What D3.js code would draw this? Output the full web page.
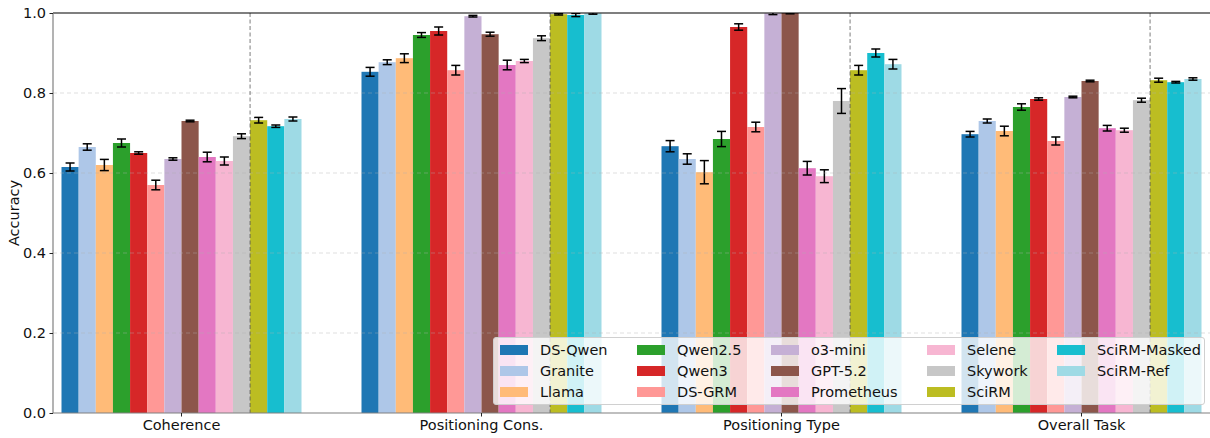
<!DOCTYPE html>
<html>
<head>
<meta charset="utf-8">
<script src="https://cdn.jsdelivr.net/npm/d3@7"></script>
<style>
  body { margin: 0; background: #fff; }
  text { font-family: "DejaVu Sans", sans-serif; }
</style>
</head>
<body>
<script>
var svgWidth = 1210;
var svgHeight = 438;

// data
var categories = ["Coherence", "Positioning Cons.", "Positioning Type", "Overall Task"];
var models = ["DS-Qwen", "Granite", "Llama", "Qwen2.5", "Qwen3", "DS-GRM", "o3-mini",
    "GPT-5.2", "Prometheus", "Selene", "Skywork", "SciRM", "SciRM-Masked", "SciRM-Ref"];
var colors = ["#1f77b4", "#aec7e8", "#ffbb78", "#2ca02c", "#d62728", "#ff9896", "#c5b0d5",
    "#8c564b", "#e377c2", "#f7b6d2", "#c7c7c7", "#bcbd22", "#17becf", "#9edae5"];

// one array per model: [Coherence, Positioning Cons., Positioning Type, Overall Task]
var dsQwen      = [0.615, 0.853, 0.667, 0.697];
var granite     = [0.665, 0.877, 0.635, 0.730];
var llama       = [0.620, 0.887, 0.602, 0.705];
var qwen25      = [0.675, 0.945, 0.685, 0.765];
var qwen3       = [0.650, 0.955, 0.965, 0.785];
var dsGrm       = [0.570, 0.857, 0.715, 0.680];
var o3mini      = [0.635, 0.992, 0.999, 0.790];
var gpt52       = [0.730, 0.947, 1.000, 0.830];
var prometheus  = [0.640, 0.870, 0.612, 0.712];
var selene      = [0.630, 0.880, 0.592, 0.707];
var skywork     = [0.692, 0.937, 0.780, 0.782];
var scirm       = [0.732, 0.997, 0.857, 0.832];
var scirmMasked = [0.717, 0.995, 0.900, 0.827];
var scirmRef    = [0.735, 0.999, 0.872, 0.835];

var dsQwenErr      = [0.010, 0.011, 0.014, 0.007];
var graniteErr     = [0.008, 0.006, 0.013, 0.005];
var llamaErr       = [0.014, 0.011, 0.029, 0.012];
var qwen25Err      = [0.010, 0.006, 0.019, 0.008];
var qwen3Err       = [0.003, 0.010, 0.008, 0.003];
var dsGrmErr       = [0.012, 0.012, 0.012, 0.010];
var o3miniErr      = [0.003, 0.002, 0.003, 0.002];
var gpt52Err       = [0.002, 0.005, 0.002, 0.002];
var prometheusErr  = [0.012, 0.012, 0.017, 0.007];
var seleneErr      = [0.010, 0.004, 0.016, 0.005];
var skyworkErr     = [0.006, 0.006, 0.031, 0.005];
var scirmErr       = [0.007, 0.002, 0.012, 0.005];
var scirmMaskedErr = [0.003, 0.004, 0.010, 0.002];
var scirmRefErr    = [0.005, 0.002, 0.012, 0.003];

var values = [dsQwen, granite, llama, qwen25, qwen3, dsGrm, o3mini, gpt52,
    prometheus, selene, skywork, scirm, scirmMasked, scirmRef];
var errors = [dsQwenErr, graniteErr, llamaErr, qwen25Err, qwen3Err, dsGrmErr, o3miniErr,
    gpt52Err, prometheusErr, seleneErr, skyworkErr, scirmErr, scirmMaskedErr, scirmRefErr];
var yTicks = [0.0, 0.2, 0.4, 0.6, 0.8, 1.0];

var plotLeft = 53, plotRight = 1210, plotTop = 13, plotBottom = 413;
var fontSize = "14.5px";

var svg = d3.select("body").append("svg")
    .attr("width", svgWidth)
    .attr("height", svgHeight);

var x0 = d3.scaleBand()
    .domain(categories)
    .range([31.5, 1231.5])
    .paddingInner(0.2)
    .paddingOuter(0.1);

var x1 = d3.scaleBand()
    .domain(models)
    .range([0, x0.bandwidth()]);

var y = d3.scaleLinear().domain([0, 1]).range([plotBottom, plotTop]);

svg.append("clipPath").attr("id", "plotclip")
    .append("rect")
    .attr("x", plotLeft).attr("y", plotTop)
    .attr("width", plotRight - plotLeft).attr("height", plotBottom - plotTop);

// flatten into rows for the bars
var rows = [];
models.forEach(function (m, i) {
    categories.forEach(function (c, j) {
        rows.push({model: m, cat: c, v: values[i][j], e: errors[i][j], color: colors[i]});
    });
});

var plot = svg.append("g").attr("clip-path", "url(#plotclip)");

plot.selectAll("rect.bar")
    .data(rows)
    .enter()
    .append("rect")
    .attr("class", "bar")
    .attr("x", d => x0(d.cat) + x1(d.model))
    .attr("width", x1.bandwidth())
    .attr("y", d => y(d.v))
    .attr("height", d => y(0) - y(d.v))
    .attr("fill", d => d.color);

// error bars
var err = plot.selectAll("g.err")
    .data(rows)
    .enter()
    .append("g")
    .attr("class", "err")
    .attr("stroke", "#000")
    .attr("stroke-width", 1.5);

err.append("line")
    .attr("x1", d => x0(d.cat) + x1(d.model) + x1.bandwidth() / 2)
    .attr("x2", d => x0(d.cat) + x1(d.model) + x1.bandwidth() / 2)
    .attr("y1", d => y(d.v - d.e))
    .attr("y2", d => y(d.v + d.e));

[-1, 1].forEach(function (s) {
    err.append("line")
        .attr("x1", d => x0(d.cat) + x1(d.model) + x1.bandwidth() / 2 - 4.5)
        .attr("x2", d => x0(d.cat) + x1(d.model) + x1.bandwidth() / 2 + 4.5)
        .attr("y1", d => y(d.v + s * d.e))
        .attr("y2", d => y(d.v + s * d.e));
});

// horizontal grid
svg.append("g").selectAll("line")
    .data(yTicks.filter(t => t > 0 && t < 1))
    .enter()
    .append("line")
    .attr("x1", plotLeft).attr("x2", plotRight)
    .attr("y1", d => y(d)).attr("y2", d => y(d))
    .attr("stroke", "#b0b0b0")
    .attr("stroke-opacity", 0.5)
    .attr("stroke-dasharray", "4,3")
    .attr("stroke-width", 0.8);

// dashed separators before SciRM
svg.append("g").selectAll("line")
    .data(categories)
    .enter()
    .append("line")
    .attr("x1", d => x0(d) + x1("SciRM"))
    .attr("x2", d => x0(d) + x1("SciRM"))
    .attr("y1", plotTop).attr("y2", plotBottom)
    .attr("stroke", "#444")
    .attr("stroke-opacity", 0.7)
    .attr("stroke-dasharray", "4,2.5")
    .attr("stroke-width", 1);

// spines
svg.append("line")
    .attr("x1", plotLeft).attr("x2", plotRight)
    .attr("y1", plotTop).attr("y2", plotTop)
    .attr("stroke", "#000").attr("stroke-width", 1.2);
svg.append("line")
    .attr("x1", plotLeft).attr("x2", plotLeft)
    .attr("y1", plotTop).attr("y2", plotBottom)
    .attr("stroke", "#808080").attr("stroke-width", 1.2);
svg.append("line")
    .attr("x1", plotLeft).attr("x2", plotRight)
    .attr("y1", plotBottom).attr("y2", plotBottom)
    .attr("stroke", "#808080").attr("stroke-width", 1.2);

// y axis
var leftAxis = d3.axisLeft(y).tickValues(yTicks).tickFormat(d3.format(".1f")).tickSize(3.5).tickPadding(3.5);
var yAxis = svg.append("g")
    .attr("transform", `translate(${plotLeft}, 0)`)
    .call(leftAxis);
yAxis.select(".domain").remove();
yAxis.selectAll("line").attr("stroke", "#222");
yAxis.selectAll("text").style("font-size", fontSize).attr("fill", "#111");

// x axis
var bottomAxis = d3.axisBottom(x0).tickSize(3.5).tickPadding(3.5);
var xAxis = svg.append("g")
    .attr("transform", `translate(0, ${plotBottom})`)
    .call(bottomAxis);
xAxis.select(".domain").remove();
xAxis.selectAll("line").attr("stroke", "#222");
xAxis.selectAll("text").style("font-size", fontSize).attr("fill", "#111");

svg.append("text")
    .attr("transform", "rotate(-90)")
    .attr("x", -(plotTop + plotBottom) / 2)
    .attr("y", 19)
    .attr("text-anchor", "middle")
    .style("font-size", fontSize)
    .attr("fill", "#111")
    .text("Accuracy");

// legend, 5 columns filled column by column
var legend = svg.append("g");
legend.append("rect")
    .attr("x", 493.5).attr("y", 337.5)
    .attr("width", 711).attr("height", 67)
    .attr("rx", 2.5)
    .attr("fill", "#fff").attr("fill-opacity", 0.8)
    .attr("stroke", "#d0d0d0").attr("stroke-width", 1);

var colX = [500, 637, 771, 927, 1057];
var rowY = [350, 371, 392];

var items = legend.selectAll("g.item")
    .data(models)
    .enter()
    .append("g")
    .attr("class", "item")
    .attr("transform", (d, i) => `translate(${colX[Math.floor(i / 3)]}, ${rowY[i % 3]})`);

items.append("rect")
    .attr("x", 0).attr("y", -5)
    .attr("width", 28).attr("height", 10)
    .attr("fill", (d, i) => colors[i]);

items.append("text")
    .attr("x", 40).attr("y", 5)
    .style("font-size", fontSize)
    .attr("fill", "#111")
    .text(d => d);
</script>
</body>
</html>
